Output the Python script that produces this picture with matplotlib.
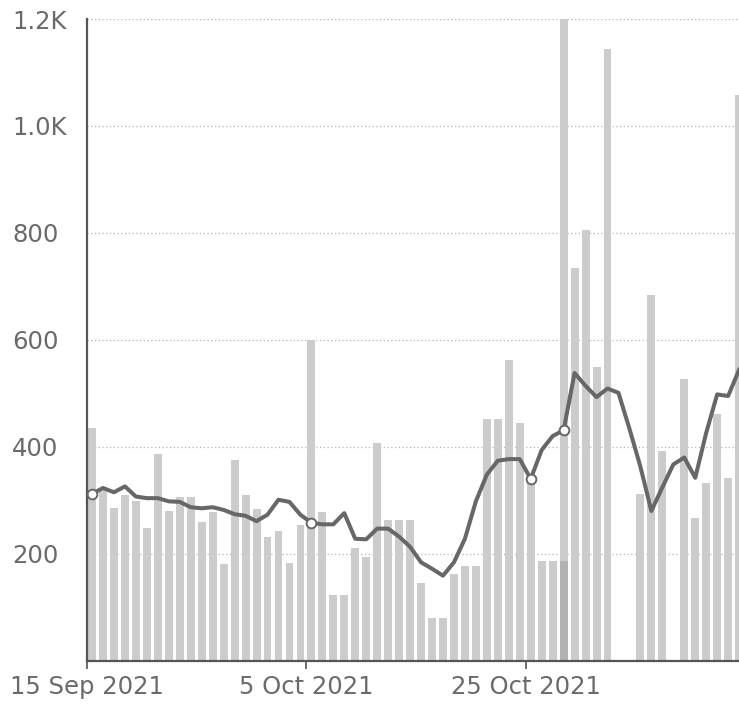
import numpy as np
import pandas as pd
import matplotlib
matplotlib.use("Agg")
import matplotlib.pyplot as plt
import matplotlib.dates as mdates

# -------------------------
# data
# -------------------------
dates = pd.date_range("2021-09-15", periods=60, freq="D")

daily = [435, 320, 285, 309, 299, 249, 386, 280, 307, 307,
         259, 278, 180, 376, 310, 283, 232, 242, 182, 254,
         600, 278, 122, 122, 211, 194, 408, 263, 263, 263,
         145, 80, 80, 162, 178, 178, 452, 452, 563, 445,
         340, 186, 186, 1210, 735, 806, 550, 1144, 0, 0,
         312, 684, 393, 0, 527, 267, 333, 461, 342, 1057]

# darker part drawn on one bar
highlight_idx = [43]
highlight_val = [186]

rolling = [312, 323, 315, 326, 307, 304, 304, 298, 297, 287,
           285, 287, 282, 274, 271, 261, 273, 301, 297, 273,
           258, 255, 255, 276, 228, 227, 247, 247, 232, 213,
           184, 172, 159, 184, 228, 298, 348, 374, 377, 377,
           340, 394, 420, 431, 538, 514, 493, 509, 501, 434,
           363, 280, 324, 367, 380, 342, 426, 498, 495, 544]

marker_idx = [0, 20, 40, 43]

tick_idx = [0, 20, 40]
ytick_vals = [200, 400, 600, 800, 1000, 1200]
ytick_labels = ["200", "400", "600", "800", "1.0K", "1.2K"]

# -------------------------
# figure
# -------------------------
plt.rcParams["font.family"] = ["DejaVu Sans"]

fig = plt.figure(figsize=(7.39, 7.04), dpi=100)
ax = fig.add_axes([0.1177, 0.0615, 0.8823, 0.9115])

bar_x = dates + pd.Timedelta(hours=2.5)
ax.bar(bar_x, daily, width=0.72, align="edge", color="#cccccc", zorder=2)
ax.bar(bar_x[highlight_idx], highlight_val, width=0.72, align="edge",
       color="#b2b2b2", zorder=2)

line_x = dates + pd.Timedelta(hours=11)
ax.plot(line_x, rolling, color="#676767", lw=2.9, zorder=3,
        solid_joinstyle="round")
ax.plot(line_x[marker_idx], np.array(rolling)[marker_idx], "o", ms=7,
        mfc="white", mec="#676767", mew=1.4, zorder=4)

ax.set_xlim(dates[0], dates[0] + pd.Timedelta(days=59.45))
ax.set_ylim(0, 1200)

ax.set_xticks(dates[tick_idx])
ax.xaxis.set_major_formatter(mdates.DateFormatter("%-d %b %Y"))
ax.set_yticks(ytick_vals)
ax.set_yticklabels(ytick_labels)

ax.grid(axis="y", linestyle=(0, (1, 2)), color="#b5b5b5", lw=0.9, zorder=0)

for s in ["top", "right"]:
    ax.spines[s].set_visible(False)
for s in ["left", "bottom"]:
    ax.spines[s].set_color("#555555")
    ax.spines[s].set_linewidth(1.6)

ax.tick_params(axis="x", length=6, width=1.2, color="#555555",
               labelsize=17.5, labelcolor="#6a6a6a", pad=4)
ax.tick_params(axis="y", length=0, labelsize=17.5, labelcolor="#6a6a6a", pad=54)
for lab in ax.get_yticklabels():
    lab.set_horizontalalignment("left")

fig.savefig("out.png", dpi=100)
